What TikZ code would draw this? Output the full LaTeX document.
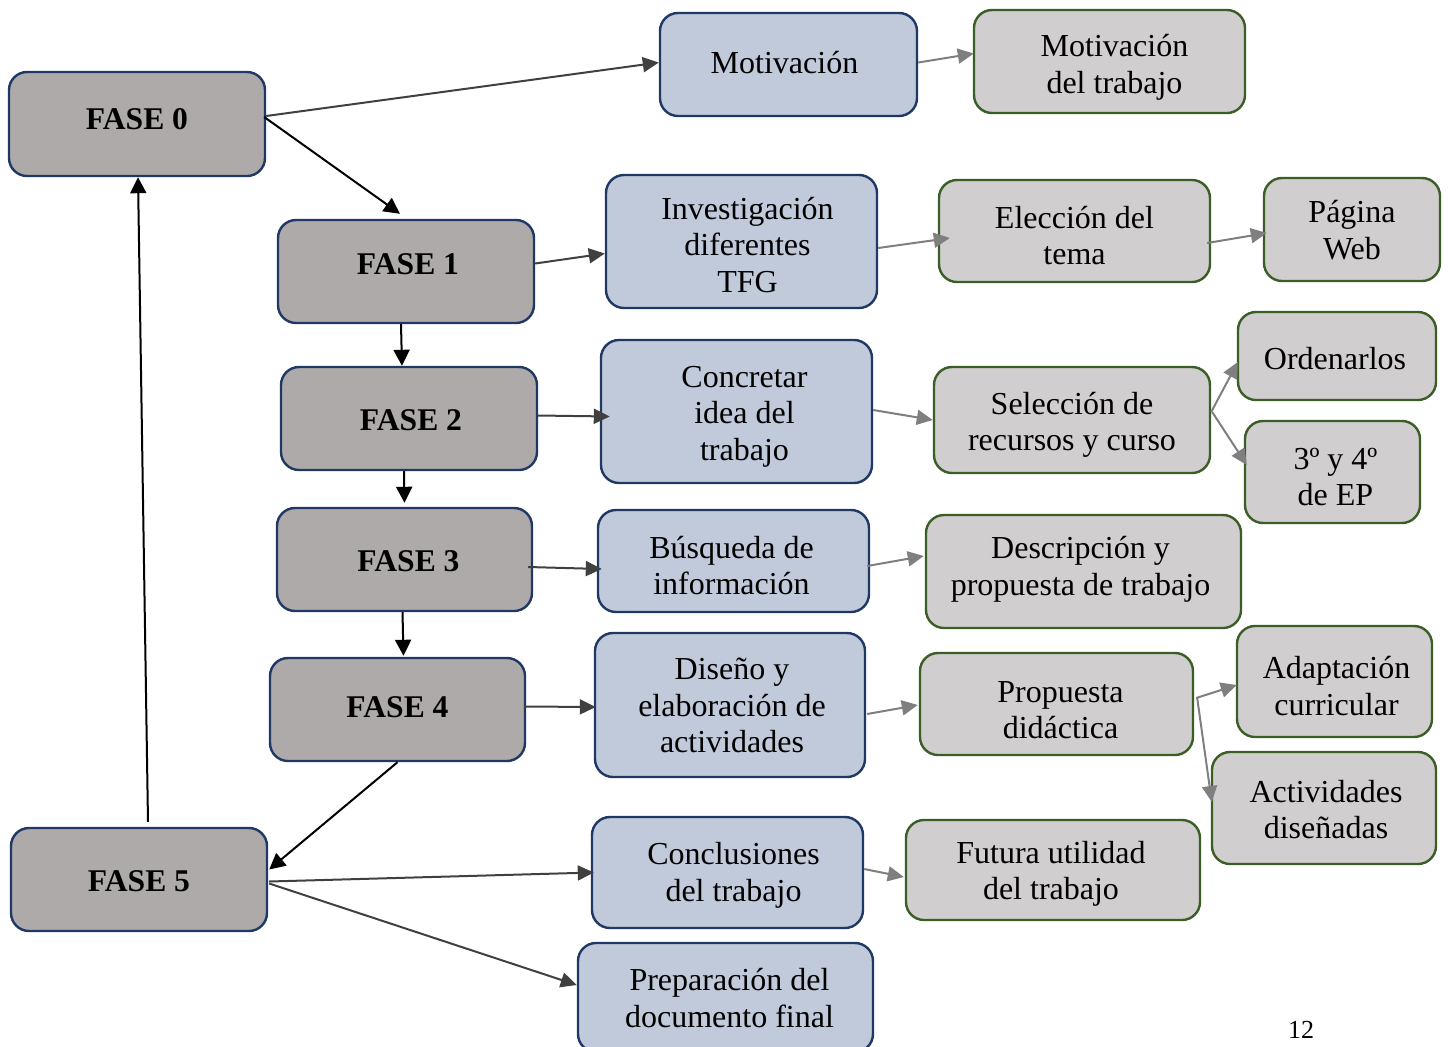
\documentclass[tikz,border=0pt]{standalone}
\usepackage{fontspec}
\setmainfont{Liberation Serif}
\usetikzlibrary{arrows.meta,calc}
\definecolor{fasefill}{HTML}{AEAAAA}
\definecolor{bordblue}{HTML}{1F3864}
\definecolor{bluefill}{HTML}{C1CADA}
\definecolor{greyfill}{HTML}{D0CECE}
\definecolor{bordgreen}{HTML}{3B5E27}
\definecolor{darkarrow}{HTML}{404040}
\definecolor{greyarrow}{HTML}{7F7F7F}
% text block with horizontal (left kern / right kern) and vertical offset (box size kept)
\newcommand\tx[4]{\kern#1\raisebox{#3}[\height][\depth]{\begin{tabular}{@{}c@{}}#4\end{tabular}}\kern#2}
\tikzset{
  basebox/.style={rectangle, rounded corners=9pt, line width=1.2pt, inner sep=0pt,
    font=\fontsize{16}{18.3}\selectfont},
  fase/.style={basebox, draw=bordblue, fill=fasefill, font=\bfseries\fontsize{15.8}{18}\selectfont},
  bluebox/.style={basebox, draw=bordblue, fill=bluefill},
  greybox/.style={basebox, draw=bordgreen, fill=greyfill},
  blackarr/.style={draw=black, line width=1pt, -{Triangle[length=8pt,width=8pt]}},
  darkarr/.style={draw=darkarrow, line width=1pt, -{Triangle[length=8pt,width=7.5pt]}},
  greyarr/.style={draw=greyarrow, line width=1pt, -{Triangle[length=8pt,width=7.5pt]}},
}
\begin{document}
\begin{tikzpicture}[x=0.5pt,y=-0.5pt]
\useasboundingbox (0,0) rectangle (1448,1046);
\begin{scope}
\clip (0,0) rectangle (1448,1046);
% FASE boxes
\node[fase, minimum width=128pt, minimum height=52pt] (f0) at (137,124) {\tx{0pt}{0pt}{1pt}{FASE 0}};
\node[fase, minimum width=128pt, minimum height=51.5pt] (f1) at (406,271.5) {\tx{2pt}{0pt}{2pt}{FASE 1}};
\node[fase, minimum width=128pt, minimum height=51.5pt] (f2) at (409,418.5) {\tx{2pt}{0pt}{-2.5pt}{FASE 2}};
\node[fase, minimum width=127.5pt, minimum height=51.5pt] (f3) at (404.5,559.5) {\tx{4pt}{0pt}{-2.5pt}{FASE 3}};
\node[fase, minimum width=127.5pt, minimum height=51.5pt] (f4) at (397.5,709.5) {\tx{0pt}{0pt}{-0.5pt}{FASE 4}};
\node[fase, minimum width=128pt, minimum height=51.5pt] (f5) at (139,879.5) {\tx{0pt}{0pt}{-2.5pt}{FASE 5}};
% blue boxes
\node[bluebox, minimum width=128.5pt, minimum height=51.5pt] (mot) at (788.5,64.5) {\tx{0pt}{4pt}{-1pt}{Motivación}};
\node[bluebox, minimum width=135.5pt, minimum height=66.5pt] (inv) at (741.5,241.5) {\tx{6pt}{0pt}{-3.5pt}{Investigación\\diferentes\\TFG}};
\node[bluebox, minimum width=135.5pt, minimum height=71.5pt] (con) at (736.5,411.5) {\tx{8pt}{0pt}{-2.5pt}{Concretar\\idea del\\trabajo}};
\node[bluebox, minimum width=135.5pt, minimum height=51pt] (bus) at (733.5,561) {\tx{0pt}{2pt}{-4pt}{Búsqueda de\\información}};
\node[bluebox, minimum width=135pt, minimum height=72pt] (dis) at (730,705) {\tx{2pt}{0pt}{-2pt}{Diseño y\\elaboración de\\actividades}};
\node[bluebox, minimum width=135.5pt, minimum height=55.5pt] (conc) at (727.5,872.5) {\tx{6pt}{0pt}{-1.5pt}{Conclusiones\\del trabajo}};
\node[bluebox, minimum width=147.5pt, minimum height=54.5pt] (pre) at (725.5,997.5) {\tx{4pt}{0pt}{-2pt}{Preparación del\\documento final}};
% grey boxes
\node[greybox, minimum width=135.5pt, minimum height=51.5pt] (motT) at (1109.5,61.5) {\tx{5pt}{0pt}{-3pt}{Motivación\\del trabajo}};
\node[greybox, minimum width=135.5pt, minimum height=51pt] (ele) at (1074.5,231) {\tx{0pt}{0pt}{-4pt}{Elección del\\tema}};
\node[greybox, minimum width=88pt, minimum height=51.5pt] (pag) at (1352,229.5) {\tx{0pt}{0pt}{-2pt}{Página\\Web}};
\node[greybox, minimum width=138pt, minimum height=53pt] (sel) at (1072,420) {\tx{0pt}{0pt}{-2.5pt}{Selección de\\recursos y curso}};
\node[greybox, minimum width=99pt, minimum height=44pt] (ord) at (1337,356) {\tx{0pt}{2pt}{-3pt}{Ordenarlos}};
\node[greybox, minimum width=87.5pt, minimum height=51pt] (cur) at (1332.5,472) {\tx{3pt}{0pt}{-4pt}{3º y 4º\\de EP}};
\node[greybox, minimum width=157.5pt, minimum height=56.5pt] (des) at (1083.5,571.5) {\tx{0pt}{3pt}{1pt}{Descripción y\\propuesta de trabajo}};
\node[greybox, minimum width=136.5pt, minimum height=51pt] (pro) at (1056.5,704) {\tx{4pt}{0pt}{-4.5pt}{Propuesta\\didáctica}};
\node[greybox, minimum width=97.5pt, minimum height=55.5pt] (ada) at (1334.5,681.5) {\tx{2pt}{0pt}{-4pt}{Adaptación\\curricular}};
\node[greybox, minimum width=112pt, minimum height=56pt] (act) at (1324,808) {\tx{2pt}{0pt}{-2.5pt}{Actividades\\diseñadas}};
\node[greybox, minimum width=147pt, minimum height=50pt] (fut) at (1053,870) {\tx{0pt}{2pt}{-2pt}{Futura utilidad\\del trabajo}};
\end{scope}
% page number
\node[font=\fontsize{13}{15}\selectfont, inner sep=0pt] (pg) at (1301,1030) {12};
% FASE flow (black)
\draw[blackarr] ($(f0.east)+(-2,-7)$) -- ($(f1.north)+(-6,-5)$);
\draw[blackarr] ($(f1.south)+(-5,0)$) -- ($(f2.north)+(-7,0)$);
\draw[blackarr] ($(f2.south)+(-5,0)$) -- ($(f3.north)+(0,-4)$);
\draw[blackarr] ($(f3.south)+(-2,0)$) -- ($(f4.north)+(6,-1)$);
\draw[blackarr] (f4.south) -- ($(f5.east)+(1,-10)$);
\draw[blackarr] ($(f5.north)+(9,-5)$) -- ($(f0.south)+(1,0)$);
% FASE to blue (dark)
\draw[darkarr] ($(f0.east)+(0,-8)$) -- ($(mot.west)+(0,-2)$);
\draw[darkarr] ($(f1.east)+(0,-8)$) -- ($(inv.west)+(0,12)$);
\draw[darkarr] ($(f2.east)+(0,-3)$) -- ($(con.west)+(10,5)$);
\draw[darkarr] ($(f3.east)+(-5,7.5)$) -- ($(bus.west)+(5,8)$);
\draw[darkarr] ($(f4.east)+(-2,-3)$) -- ($(dis.west)+(2,2)$);
\draw[darkarr] ($(f5.east)+(1,2)$) -- ($(conc.west)+(3,0)$);
\draw[darkarr] ($(f5.east)+(1,4)$) -- ($(pre.west)+(0,-12.5)$);
% blue to grey (grey)
\draw[greyarr] ($(mot.east)+(0,-2)$) -- ($(motT.west)+(1,-8)$);
\draw[greyarr] ($(inv.east)+(0,6.5)$) -- ($(ele.west)+(12,7)$);
\draw[greyarr] ($(ele.east)+(-4,12)$) -- ($(pag.west)+(4,3.5)$);
\draw[greyarr] ($(con.east)+(0,-1.5)$) -- (sel.west);
\draw[greyarr] ($(sel.east)+(0,-8)$) -- ($(ord.west)+(1,6)$);
\draw[greyarr] ($(sel.east)+(1,-8)$) -- ($(cur.west)+(3,-7)$);
\draw[greyarr] ($(bus.east)+(-3,5)$) -- ($(des.west)+(-1,-15.5)$);
\draw[greyarr] ($(dis.east)+(1,9)$) -- ($(pro.west)+(-1,1)$);
\draw[greyarr] ($(pro.east)+(2,-6)$) -- ($(ada.west)+(1,3.5)$);
\draw[greyarr] ($(pro.east)+(3,-6)$) -- ($(act.west)+(1,-6)$);
\draw[greyarr] ($(conc.east)+(0,-3.5)$) -- ($(fut.west)+(-1,7)$);
\end{tikzpicture}
\end{document}
